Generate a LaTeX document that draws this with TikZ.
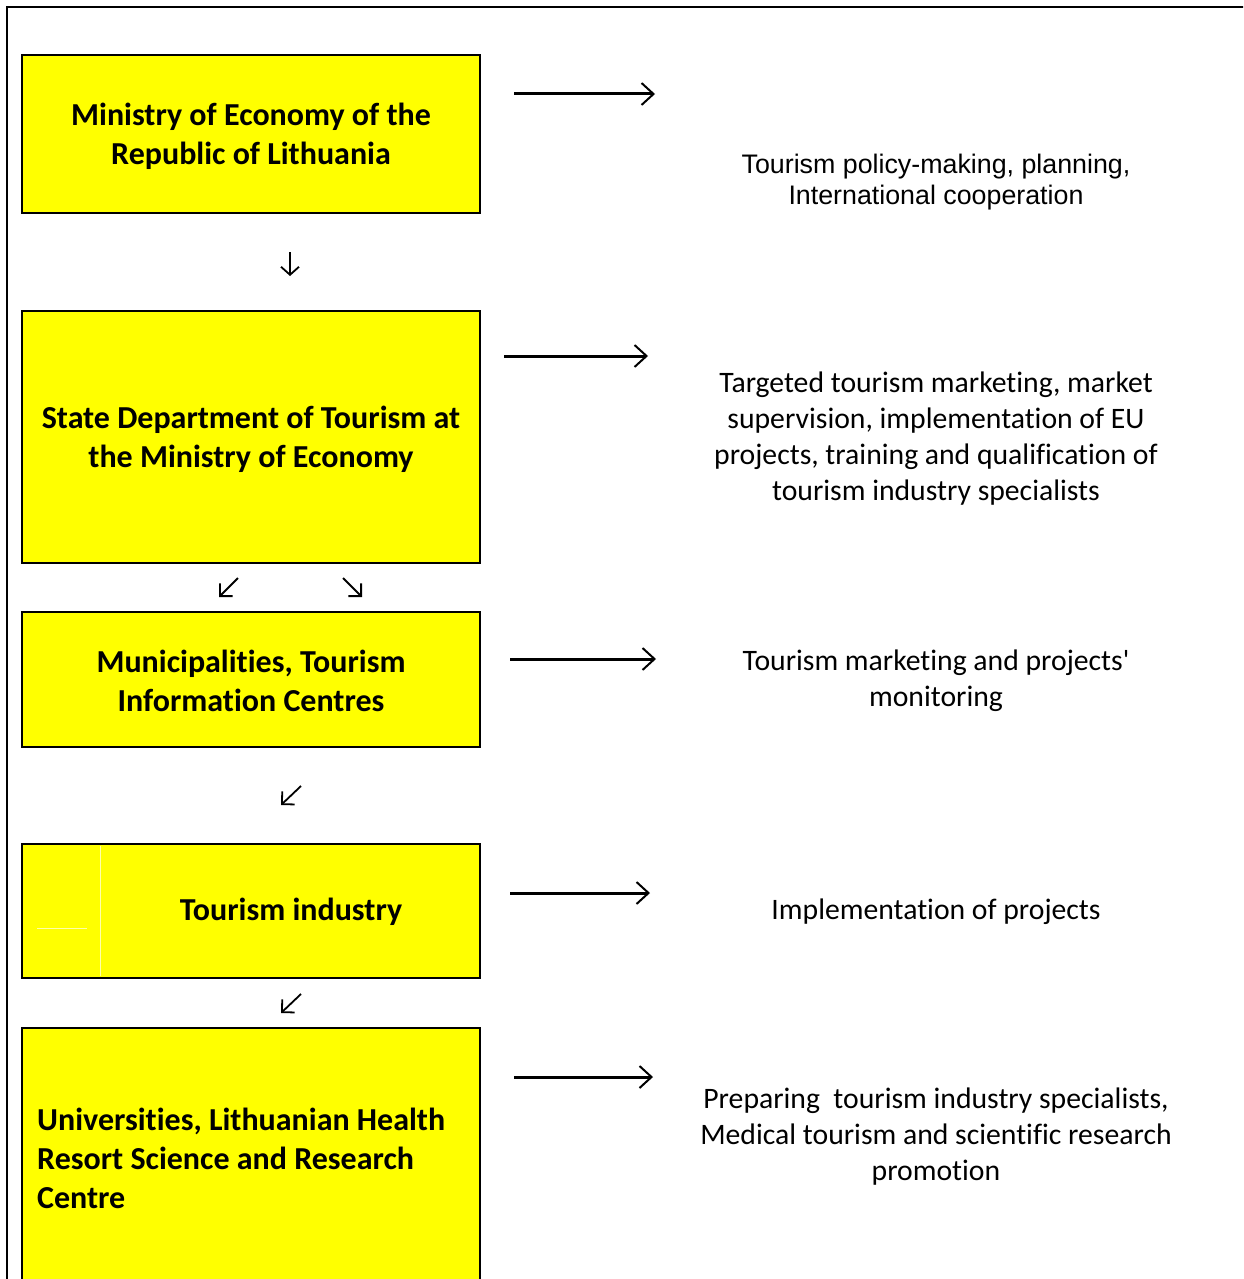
\documentclass[tikz,border=0pt]{standalone}
\usepackage{fontspec}
\setmainfont{Carlito}[RawFeature=-liga]
\newfontfamily\calibrif{Carlito}[RawFeature=-liga]
\newfontfamily\arialf{Liberation Sans}
\usetikzlibrary{arrows.meta}
\definecolor{boxyellow}{RGB}{255,255,0}
\definecolor{faint}{RGB}{255,255,170}
\tikzset{
  orgbox/.style={draw=black,line width=1.6pt,fill=boxyellow},
  boxtext/.style={font=\calibrif\fontsize{32}{39}\selectfont\bfseries,align=center,inner sep=0pt},
  desctext/.style={font=\calibrif\fontsize{29.7}{36}\selectfont,align=center,inner sep=0pt},
  longarrow/.style={line width=3pt,-{Straight Barb[length=12pt,width=22pt,line width=2pt]}},
  smallarrow/.style={line width=1.8pt,-{Straight Barb[length=8pt,width=18pt,line width=1.8pt]}},
  diagarrow/.style={line width=1.8pt,-{Straight Barb[length=9pt,width=18pt,line width=1.8pt,angle'=90]}},
}
\begin{document}
\begin{tikzpicture}[x=1pt,y=-1pt]
\useasboundingbox (0,0) rectangle (1243,1279);
\clip (0,0) rectangle (1243,1279);
\fill[white] (0,0) rectangle (1243,1279);
% outer frame
\draw[line width=1.8pt] (7,1290) -- (7,7) -- (1250,7);
% boxes
\draw[orgbox] (22,55) rectangle (480,213);
\draw[orgbox] (22,311) rectangle (480,563);
\draw[orgbox] (22,612) rectangle (480,747);
\draw[orgbox] (22,844) rectangle (480,978);
\draw[faint,line width=1pt] (100,846) -- (100,976);
\draw[faint,line width=1pt] (37,928) -- (87,928);
\draw[orgbox] (22,1028) rectangle (480,1300);
% box texts
\node[boxtext] (b1) at (251,136) {Ministry of Economy of the\\Republic of Lithuania};
\node[boxtext] (b2) at (251,439) {State Department of Tourism at\\the Ministry of Economy};
\node[boxtext] (b3) at (251,681) {Municipalities, Tourism\\Information Centres};
\node[boxtext] (b4) at (291,912) {Tourism industry};
\node[boxtext,align=left,anchor=west] (b5) at (37,1158) {Universities, Lithuanian Health\\Resort Science and Research\\Centre};
% descriptions
\node[desctext,font=\arialf\fontsize{26.8}{31}\selectfont] (d1) at (936,182) {Tourism policy-making, planning,\\International cooperation};
\node[desctext] (d2) at (936,439) {Targeted tourism marketing, market\\supervision, implementation of EU\\projects, training and qualification of\\tourism industry specialists};
\node[desctext] (d3) at (936,681) {Tourism marketing and projects'\\monitoring};
\node[desctext] (d4) at (936,912) {Implementation of projects};
\node[desctext] (d5) at (936,1137) {Preparing\ \ tourism industry specialists,\\Medical tourism and scientific research\\promotion};
% long arrows
\coordinate (a1s) at (514,94);  \coordinate (a1e) at (655,94);
\coordinate (a2s) at (504,356); \coordinate (a2e) at (648,356);
\coordinate (a3s) at (510,659); \coordinate (a3e) at (656,659);
\coordinate (a4s) at (510,893); \coordinate (a4e) at (650,893);
\coordinate (a5s) at (514,1077);\coordinate (a5e) at (653,1077);
\foreach \i in {1,...,5} {\draw[longarrow] (a\i s) -- (a\i e);}
% small arrows
\coordinate (s1s) at (290,252); \coordinate (s1e) at (290,276);
\draw[smallarrow] (s1s) -- (s1e);
\coordinate (s2s) at (238,578); \coordinate (s2e) at (219,597);
\coordinate (s3s) at (343,578); \coordinate (s3e) at (362,597);
\coordinate (s4s) at (301,786); \coordinate (s4e) at (281,805);
\coordinate (s5s) at (301,994); \coordinate (s5e) at (281,1013);
\foreach \i in {2,...,5} {\draw[diagarrow] (s\i s) -- (s\i e);}
\end{tikzpicture}
\end{document}
